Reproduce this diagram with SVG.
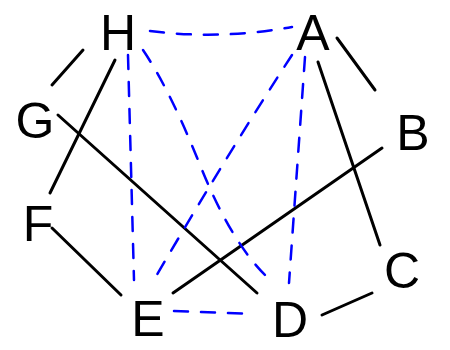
<svg xmlns="http://www.w3.org/2000/svg" width="450" height="350" viewBox="0 0 450 350">
<style>
.lbl{font-family:"Liberation Sans",Arial,sans-serif;font-size:50px;fill:#000;text-anchor:middle}
.solid{stroke:#000;stroke-width:3;fill:none;stroke-linecap:round}
.dash{stroke:#0000ff;stroke-width:2.5;fill:none;stroke-dasharray:14 13;stroke-linecap:round}
</style>
<rect width="450" height="350" fill="#fff"/>
<g id="connectors">
<path class="solid" d="M83,50 L52,85"/>
<path class="solid" d="M115,60 L50,193"/>
<path class="solid" d="M58,115 L257,293"/>
<path class="solid" d="M52,228 L121,295"/>
<path class="solid" d="M173,293 L382,148"/>
<path class="solid" d="M337,38 L375,90"/>
<path class="solid" d="M318,62 L380,245"/>
<path class="solid" d="M322,315 L372,293"/>
<path class="dash" d="M150,31 Q220,40 292,27"/>
<path class="dash" d="M128,55 L134,280"/>
<path class="dash" d="M143,50 Q170,90 200,165 Q230,240 265,275"/>
<path class="dash" d="M292,55 Q230,150 155,278"/>
<path class="dash" d="M305,57 L289,283"/>
<path class="dash" d="M174,311 L254,314"/>
</g>
<g id="H"><text class="lbl" x="118" y="50">H</text></g>
<g id="A"><text class="lbl" x="313" y="50">A</text></g>
<g id="B"><text class="lbl" x="413" y="150">B</text></g>
<g id="C"><text class="lbl" x="402" y="288">C</text></g>
<g id="D"><text class="lbl" x="290" y="337">D</text></g>
<g id="E"><text class="lbl" x="148" y="336">E</text></g>
<g id="F"><text class="lbl" x="38" y="241">F</text></g>
<g id="G"><text class="lbl" x="35" y="138">G</text></g>
</svg>
